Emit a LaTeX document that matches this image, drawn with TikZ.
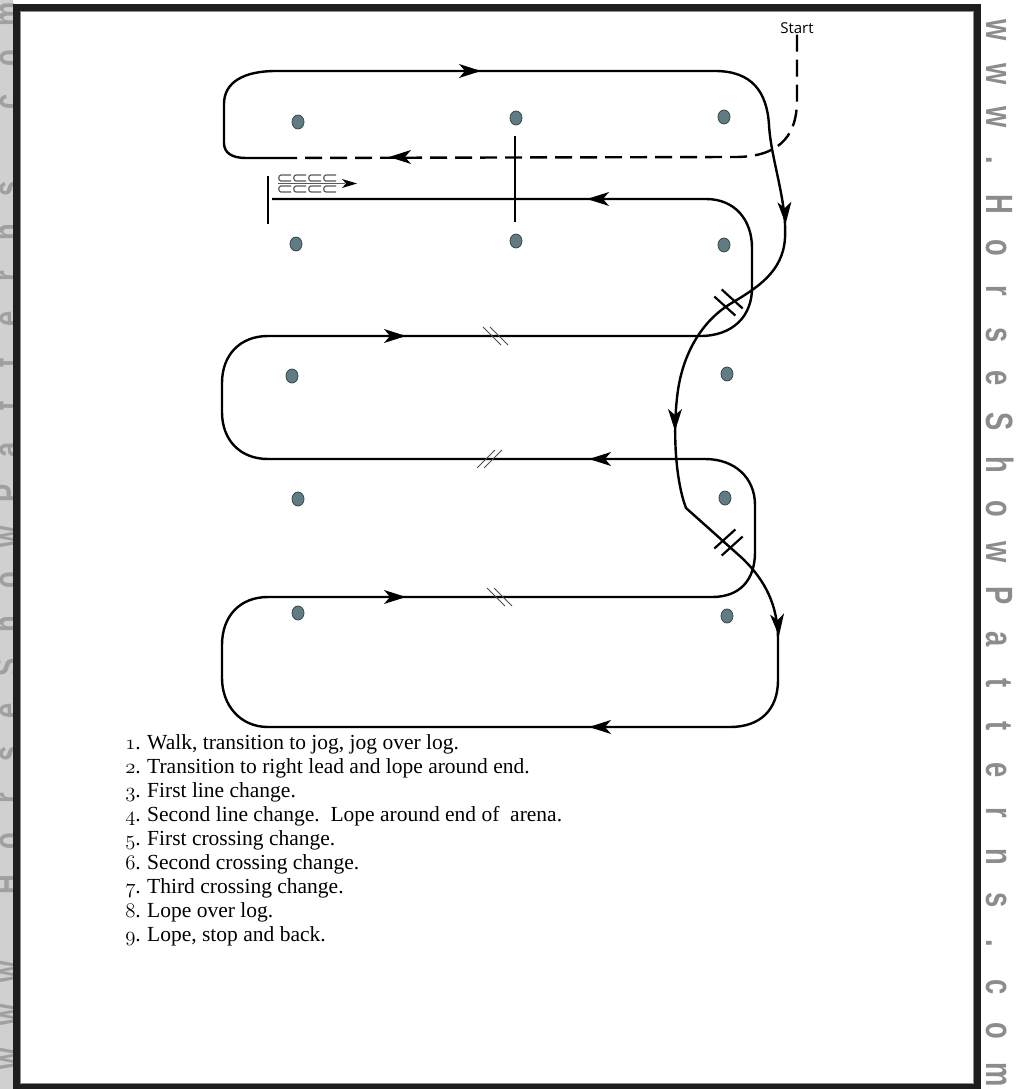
\documentclass[tikz,border=0pt]{standalone}
\usepackage{fontspec}
\usepackage{graphicx}
\setmainfont{Liberation Serif}
\newfontfamily\startfont{Open Sans}
\newfontfamily\wmfont{Liberation Sans}
\usetikzlibrary{arrows.meta,shapes.geometric}
\newcommand\osnum[1]{{\usefont{OML}{cmm}{m}{it}#1}}
\newcommand\wl[1]{\makebox[43.5pt]{\scalebox{0.72}[1]{#1}}}
\newcommand\wmtext{\wl{w}\wl{w}\wl{w}\wl{.}\wl{H}\wl{o}\wl{r}\wl{s}\wl{e}\wl{S}\wl{h}\wl{o}\wl{w}\wl{P}\wl{a}\wl{t}\wl{t}\wl{e}\wl{r}\wl{n}\wl{s}\wl{.}\wl{c}\wl{o}\wl{m}}
\definecolor{conefill}{RGB}{96,124,130}
\definecolor{coneline}{RGB}{55,72,76}
\definecolor{wmgray}{RGB}{140,140,140}
\definecolor{stripbg}{RGB}{208,208,208}
\definecolor{stripfg}{RGB}{160,160,160}
\definecolor{framecol}{RGB}{30,30,30}
\tikzset{
  route/.style={line width=2.4pt, black},
  jogroute/.style={route, dash pattern=on 17pt off 8pt},
  cone/.style={ellipse, draw=coneline, fill=conefill, line width=0.8pt, minimum width=12pt, minimum height=14pt, inner sep=0pt},
  thinmark/.style={line width=0.9pt, black!70},
  heavymark/.style={line width=2.2pt, black},
  cmark/.style={line width=1.2pt, black!65},
  listtext/.style={font=\fontsize{21.5}{24}\selectfont, inner sep=0pt},
  wm/.style={font=\wmfont\bfseries\fontsize{38}{40}\selectfont, inner sep=0pt},
  arrowmark/.pic={\fill (-11,-7) -- (11,0) -- (-11,7) -- (-5,0) -- cycle;}
}
\begin{document}
\begin{tikzpicture}[x=1pt,y=-1pt,line join=round]
\useasboundingbox (0,0) rectangle (1016,1089);
\fill[white] (0,0) rectangle (1016,1089);
% left strip
\fill[stripbg] (0,0) rectangle (13,1089);
\begin{scope}
  \clip (0,0) rectangle (13,1089);
  \node[wm, rotate=90, anchor=base west, text=stripfg] (wmL) at (20,1080.75) {\wmtext};
\end{scope}
% right strip
\node[wm, rotate=-90, anchor=base west, text=wmgray] (wmR) at (986,8.25) {\wmtext};
% frame
\fill[framecol] (13,4) rectangle (20,1089);
\fill[framecol] (13,4) rectangle (981,11);
\fill[framecol] (974,4) rectangle (981,1089);
\fill[framecol] (13,1084) rectangle (981,1089);
\draw[black!45, line width=0.8pt] (20.5,11.5) rectangle (973.5,1083.5);

% cones
\node[cone] (c11) at (298,122) {};
\node[cone] (c12) at (516,118) {};
\node[cone] (c13) at (724,117) {};
\node[cone] (c21) at (296,244) {};
\node[cone] (c22) at (516,241) {};
\node[cone] (c23) at (724,245) {};
\node[cone] (c31) at (292,376) {};
\node[cone] (c33) at (727,374) {};
\node[cone] (c41) at (298,499) {};
\node[cone] (c43) at (725,498) {};
\node[cone] (c51) at (298,613) {};
\node[cone] (c53) at (727,616) {};

% log and stop bar
\coordinate (logtop) at (515,136);
\coordinate (logbot) at (515,222);
\draw[route] (logtop) -- (logbot);
\coordinate (stoptop) at (268,176);
\coordinate (stopbot) at (268,224);
\draw[route] (stoptop) -- (stopbot);

% start and jog (dashed)
\node[font=\startfont\fontsize{15}{17}\selectfont, inner sep=1pt] (start) at (797,28) {Start};
\coordinate (jogend) at (280,158);
\draw[jogroute] (start.south) -- (797,100) .. controls (797,140) and (775,157) .. (735,157) -- (jogend);

% lope route
\draw[route] (jogend) -- (246,158) .. controls (232,158) and (224,153) .. (224,143) -- (224,104)
  .. controls (224,82) and (244,71) .. (276,71) -- (715,71)
  .. controls (752,71) and (767,92) .. (769,125)
  .. controls (771,160) and (787,200) .. (785,238)
  .. controls (783,272) and (757,288) .. (730,304)
  .. controls (704,320) and (684,350) .. (678,390)
  .. controls (672,432) and (676,482) .. (686,508) -- (742,558)
  .. controls (765,580) and (778,605) .. (778,640) -- (778,680)
  .. controls (778,710) and (760,727) .. (730,727) -- (268,727)
  .. controls (240,727) and (222,705) .. (222,678) -- (222,645)
  .. controls (222,616) and (240,597) .. (268,597) -- (712,597)
  .. controls (740,597) and (755,580) .. (755,552) -- (755,505)
  .. controls (755,478) and (735,459) .. (705,459) -- (268,459)
  .. controls (240,459) and (222,440) .. (222,412) -- (222,383)
  .. controls (222,355) and (240,336) .. (268,336) -- (700,336)
  .. controls (733,336) and (752,316) .. (752,288) -- (752,248)
  .. controls (752,220) and (735,199) .. (706,199) -- (272,199);

% arrowheads
\pic at (400,157) [rotate=180] {arrowmark};
\pic at (470,71) {arrowmark};
\pic at (785,213) [rotate=-87] {arrowmark};
\pic at (675,420) [rotate=-90] {arrowmark};
\pic at (778,625) [rotate=-85] {arrowmark};
\pic at (600,727) [rotate=180] {arrowmark};
\pic at (395,597) {arrowmark};
\pic at (600,459) [rotate=180] {arrowmark};
\pic at (395,336) {arrowmark};
\pic at (598,199) [rotate=180] {arrowmark};

% line change marks (thin)
\draw[thinmark] (483,327) -- (501,345) (490,327) -- (508,345);
\draw[thinmark] (477,468) -- (495,450) (484,468) -- (502,450);
\draw[thinmark] (487,588) -- (505,606) (494,588) -- (512,606);
% crossing change marks (heavy)
\draw[heavymark] (714.3,296.5) -- (735.3,315.5) (721.7,289.5) -- (742.7,308.5);
\draw[heavymark] (714.3,548.5) -- (735.3,529.5) (721.7,555.5) -- (742.7,536.5);

% backing marks
\foreach \i in {0,1,2,3}{
  \draw[cmark] (278+15*\i+13,175) -- (278+15*\i+3,175) .. controls (278+15*\i,175) and (278+15*\i,181) .. (278+15*\i+3,181) -- (278+15*\i+13,181);
  \draw[cmark] (278+15*\i+13,186) -- (278+15*\i+3,186) .. controls (278+15*\i,186) and (278+15*\i,192) .. (278+15*\i+3,192) -- (278+15*\i+13,192);
}
\draw[cmark] (278,183.5) -- (345,183.5);
\fill[black] (342,179) -- (357,183.5) -- (342,188) -- (346,183.5) -- cycle;

% list
\foreach \n/\t [count=\k from 0] in {1/{Walk, transition to jog, jog over log.},
  2/{Transition to right lead and lope around end.},
  3/{First line change.},
  4/{Second line change.\ \ Lope around end of\ \ arena.},
  5/{First crossing change.},
  6/{Second crossing change.},
  7/{Third crossing change.},
  8/{Lope over log.},
  9/{Lope, stop and back.}}{
  \node[listtext, anchor=base east] (num\n) at (141,749+24*\k) {\osnum{\n}.};
  \node[listtext, anchor=base west] (item\n) at (147,749+24*\k) {\t};
}
\end{tikzpicture}
\end{document}
